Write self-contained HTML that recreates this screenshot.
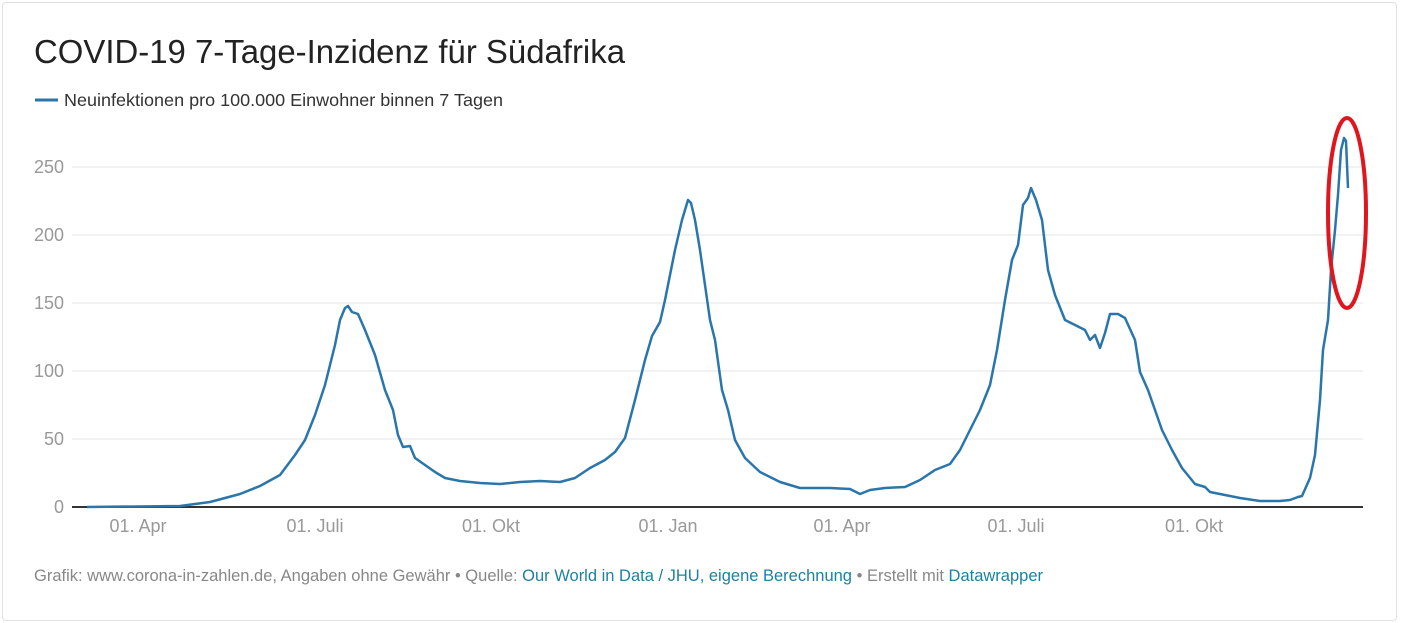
<!DOCTYPE html>
<html><head><meta charset="utf-8"><style>
body{margin:0;background:#fff;width:1401px;height:623px;overflow:hidden;font-family:"Liberation Sans",sans-serif}
.card{position:absolute;left:2px;top:2px;width:1393px;height:617px;border:1px solid #e2e2e2;border-radius:4px}
</style></head><body>
<div class="card"></div>
<svg width="1401" height="623" style="position:absolute;left:0;top:0" font-family="Liberation Sans, sans-serif">
<text x="34" y="63" font-size="33" fill="#222" textLength="591" lengthAdjust="spacingAndGlyphs">COVID-19 7-Tage-Inzidenz für Südafrika</text>
<line x1="35" y1="100" x2="58" y2="100" stroke="#2a76ab" stroke-width="3"/>
<text x="64" y="106" font-size="17.5" fill="#333" textLength="439" lengthAdjust="spacingAndGlyphs">Neuinfektionen pro 100.000 Einwohner binnen 7 Tagen</text>
<g stroke="#e4e4e4" stroke-width="1">
<line x1="72" y1="167" x2="1363" y2="167"/><line x1="72" y1="235" x2="1363" y2="235"/>
<line x1="72" y1="303" x2="1363" y2="303"/><line x1="72" y1="371" x2="1363" y2="371"/>
<line x1="72" y1="439" x2="1363" y2="439"/></g>
<g font-size="18" fill="#999">
<text x="34" y="173">250</text><text x="34" y="241">200</text><text x="34" y="309">150</text>
<text x="34" y="377">100</text><text x="44" y="445">50</text><text x="54" y="513">0</text></g>
<line x1="72" y1="507" x2="1363" y2="507" stroke="#333" stroke-width="2"/>
<g font-size="18" fill="#999" text-anchor="middle">
<text x="138" y="532">01. Apr</text><text x="315" y="532">01. Juli</text><text x="491" y="532">01. Okt</text>
<text x="668" y="532">01. Jan</text><text x="842" y="532">01. Apr</text><text x="1016" y="532">01. Juli</text><text x="1194" y="532">01. Okt</text></g>
<polyline fill="none" stroke="#2a76ab" stroke-width="2.5" stroke-linejoin="round" points="87,507 180,506 210,502 240,494 260,486 280,475 295,455 305,440 315,415 325,385 335,345 340,320 345,308 348,306 352,312 358,314 365,330 375,355 385,390 393,410 398,435 403,447 410,446 415,458 425,465 435,472 445,478 460,481 480,483 500,484 520,482 540,481 560,482 575,478 590,468 605,460 615,452 625,438 635,400 640,380 645,360 652,336 660,322 665,300 675,250 682,220 688,200 691,203 695,220 700,250 705,285 710,320 715,340 722,390 728,410 735,440 745,458 760,472 780,482 800,488 830,488 850,489 860,494 870,490 885,488 905,487 920,480 935,470 950,464 960,450 970,430 980,410 990,385 997,350 1005,300 1012,260 1018,245 1023,205 1028,198 1031,188 1036,200 1042,220 1048,270 1055,295 1065,320 1075,325 1085,330 1090,340 1095,335 1100,348 1105,333 1110,314 1118,314 1125,318 1135,340 1140,372 1148,390 1155,410 1162,430 1172,450 1182,468 1195,484 1205,487 1210,492 1225,495 1240,498 1260,501 1280,501 1290,500 1298,497 1302,496 1310,478 1315,455 1320,400 1323,350 1328,320 1331,270 1335,230 1338,195 1341,150 1344,138 1346,141 1348,188"/>
<ellipse cx="1347" cy="213" rx="19" ry="95" fill="none" stroke="#e0161e" stroke-width="4"/>
<text x="34" y="581" font-size="16.5" fill="#888" textLength="1009" lengthAdjust="spacingAndGlyphs">Grafik: www.corona-in-zahlen.de, Angaben ohne Gewähr • Quelle: <tspan fill="#1d81a2">Our World in Data / JHU, eigene Berechnung</tspan> • Erstellt mit <tspan fill="#1d81a2">Datawrapper</tspan></text>
</svg>
</body></html>
